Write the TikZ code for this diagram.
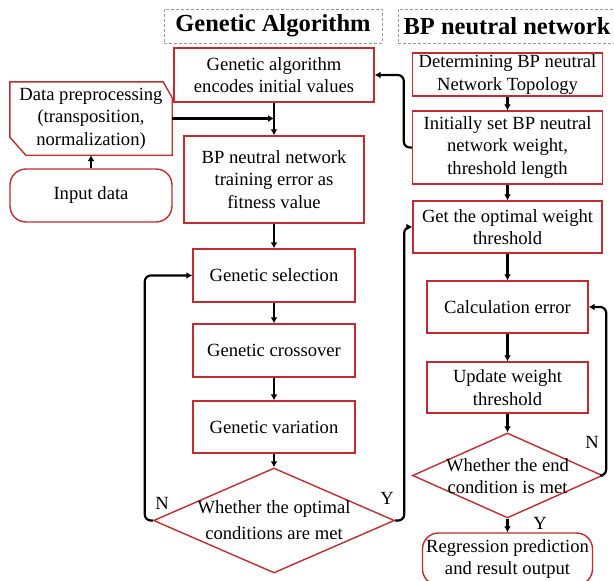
\documentclass[tikz,border=0pt]{standalone}
\usepackage{fontspec}
\setmainfont{Liberation Serif}
\usetikzlibrary{calc,arrows.meta,shapes.geometric}
\definecolor{boxred}{RGB}{192,44,50}
\tikzset{
	sz/.style 2 args={minimum width=#1pt, minimum height=#2pt},
	box/.style={draw=boxred, line width=1.4pt, align=center, inner sep=0pt, font=\fontsize{18.6}{22.5}\selectfont},
	boxline/.style={draw=boxred, line width=1.4pt},
	hdr/.style={draw=black!40, dash pattern=on 3pt off 2pt, line width=0.8pt, inner sep=0pt, font=\fontsize{24.5}{28}\selectfont\bfseries},
	dia/.style={draw=boxred, line width=1.4pt, diamond, inner sep=0pt},
	txt/.style={align=center, inner sep=0pt, font=\fontsize{18.6}{22.5}\selectfont},
	arr/.style={-{Latex[length=6pt,width=7pt]}, line width=2.2pt},
}
\begin{document}
\begin{tikzpicture}[x=1pt, y=-1pt]
		%%%%% START %%%%%
		\useasboundingbox (0, 0) rectangle (614, 581);
		
		\node[hdr, sz={218}{34}] (hga) at (273, 26) {Genetic Algorithm};
		\node[hdr, sz={218}{34}] (hbp) at (507, 26) {BP neutral network};
		
		\node[box, sz={200}{54}] (enc) at (274, 75) {Genetic algorithm\\encodes initial values};
		\node[txt, sz={162}{73}] (prep) at (91, 118.5) {Data preprocessing\\(transposition,\\normalization)};
		\draw[boxline] (prep.north west) -- ($(prep.north east)+(-9, 0)$) -- ($(prep.north east)+(0, 16)$) -- (prep.south east) -- ($(prep.south west)+(16, 0)$) -- ($(prep.south west)+(0, -18)$) -- cycle;
		\node[box, rounded corners=16pt, sz={162}{53}] (input) at (91, 195.5) {Input data};
		\node[box, sz={180}{87}] (fit) at (274, 179.5) {BP neutral network\\training error as\\fitness value};
		
		\node[box, sz={162}{53}] (sel) at (274, 275.5) {Genetic selection};
		\node[box, sz={162}{53}] (cross) at (274, 350.5) {Genetic crossover};
		\node[box, sz={162}{52}] (var) at (274, 427) {Genetic variation};
		\node[dia, sz={241}{105}] (cond) at (274, 520.5) {};
		\node[txt, font=\fontsize{18.6}{25.5}\selectfont] (condtxt) at (274, 520) {Whether the optimal\\conditions are met};
		
		\node[box, sz={190}{43}] (topo) at (507.5, 74.5) {Determining BP neutral\\Network Topology};
		\node[box, sz={190}{73}] (init) at (507.5, 147.5) {Initially set BP neutral\\network weight,\\threshold length};
		\node[box, sz={189}{52}] (opt) at (507.5, 227) {Get the optimal weight\\threshold};
		\node[box, sz={161}{52}] (calc) at (507.5, 307) {Calculation error};
		\node[box, sz={161}{51}] (upd) at (507.5, 387.5) {Update weight\\threshold};
		\node[dia, sz={190}{85}] (endc) at (507.5, 475.5) {};
		\node[txt] (endtxt) at (507.5, 476) {Whether the end\\condition is met};
		\node[box, rounded corners=16pt, sz={170}{52}] (out) at (507.5, 559) {Regression prediction\\and result output};
		
		% Y / N
		\node[txt] (nga) at (162, 503) {N};
		\node[txt] (yga) at (387, 498) {Y};
		\node[txt] (nbp) at (592, 442) {N};
		\node[txt] (ybp) at (540, 523) {Y};
		
		% arrows, left side
		\draw[arr] (input) -- (prep);
		\draw[arr] (prep.east) -- (prep.east -| enc.south);
		\draw[arr] (enc) -- (fit);
		\draw[arr] (fit) -- (sel);
		\draw[arr] (sel) -- (cross);
		\draw[arr] (cross) -- (var);
		\draw[arr] (var) -- (cond);
		\draw[arr, rounded corners=6pt] (cond.west) -- ++(-8, 0) |- (sel.west);
		\draw[arr, rounded corners=6pt] (cond.east) -- ++(9, 0) |- (opt.west);
		
		% arrows, right side
		\draw[arr] (topo) -- (init);
		\draw[arr] (init) -- (opt);
		\draw[arr] (opt) -- (calc);
		\draw[arr] (calc) -- (upd);
		\draw[arr] (upd) -- (endc);
		\draw[arr] (endc) -- (out);
		\draw[arr, rounded corners=6pt] (endc.east) -- ++(3, 0) |- (calc.east);
		\draw[arr, rounded corners=6pt] (init.west) -- ++(-8, 0) |- (enc.east);
		
		%%%%% END %%%%%
	\end{tikzpicture}
\end{document}
